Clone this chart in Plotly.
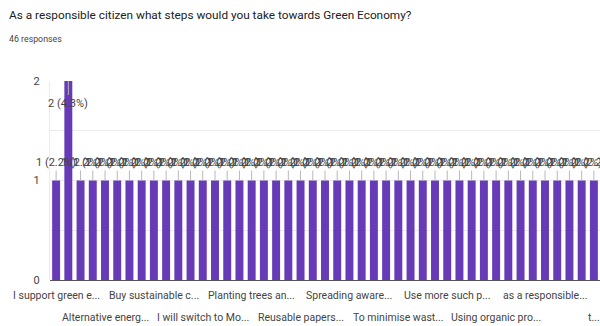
import plotly.graph_objects as go

title = "As a responsible citizen what steps would you take towards Green Economy?"
subtitle = "46 responses"

# 45 response categories (only every 4th label is readable in the reference)
shown_labels = {
    0: "I support green e...",
    4: "Alternative energ...",
    8: "Buy sustainable c...",
    12: "I will switch to Mo...",
    16: "Planting trees an...",
    20: "Reusable papers...",
    24: "Spreading aware...",
    28: "To minimise wast...",
    32: "Use more such p...",
    36: "Using organic pro...",
    40: "as a responsible...",
    44: "t...",
}
categories = [shown_labels.get(i, f"Response {i + 1}") for i in range(45)]
counts = [1, 2] + [1] * 43
percent_labels = ["2.2%", "4.3%"] + ["2.2%"] * 43

FONT = "Roboto, Arial, sans-serif"
BAR = "#673ab7"

fig = go.Figure()
fig.add_trace(go.Bar(x=categories, y=counts, marker=dict(color=BAR, line=dict(width=0)),
                     hoverinfo="skip"))

annotations = []
# value labels with stems
for c, v, p in zip(categories, counts, percent_labels):
    above = v < max(counts)
    annotations.append(dict(
        x=c, y=v, xref="x", yref="y", text=f"{v} ({p})",
        showarrow=True, arrowhead=0, arrowwidth=1, arrowcolor="#b8b8b8",
        ax=0, ay=-18 if above else 22,
        font=dict(family=FONT, size=11, color="#444444"),
    ))

# category labels in two staggered rows
for k, i in enumerate(sorted(shown_labels)):
    annotations.append(dict(
        x=categories[i], y=0, xref="x", yref="paper", yanchor="middle",
        yshift=-15 if k % 2 == 0 else -37, text=shown_labels[i], showarrow=False,
        font=dict(family=FONT, size=10.5, color="#444444"),
    ))

annotations.append(dict(x=0, y=1, xref="paper", yref="paper", xanchor="left", yanchor="top",
                        xshift=-50 + 7, yshift=81 - 6, text=title, showarrow=False,
                        font=dict(family=FONT, size=11.8, color="#202124")))
annotations.append(dict(x=0, y=1, xref="paper", yref="paper", xanchor="left", yanchor="top",
                        xshift=-50 + 7, yshift=81 - 32, text=subtitle, showarrow=False,
                        font=dict(family=FONT, size=8.8, color="#444444")))

fig.update_layout(
    width=600, height=326,
    margin=dict(l=50, r=0, t=81, b=46, autoexpand=False),
    paper_bgcolor="white", plot_bgcolor="white",
    bargap=0.35, showlegend=False,
    font=dict(family=FONT, size=11, color="#444444"),
    annotations=annotations,
    xaxis=dict(type="category", range=[-0.5, len(categories) - 0.5],
               showticklabels=False, showgrid=False, ticks="", showline=False, automargin=False),
    yaxis=dict(range=[0, 2], tickmode="array", tickvals=[0, 1, 2], ticktext=["0", "1", "2"],
               showgrid=True, gridcolor="#ececec", zeroline=True, zerolinecolor="#555555",
               zerolinewidth=1, showline=True, linecolor="#ececec", automargin=False,
               minor=dict(tickmode="array", tickvals=[0.5, 1.5], showgrid=True, gridcolor="#ececec"),
               ticks="", ticklabelstandoff=7,
               tickfont=dict(family=FONT, size=11, color="#444444")),
)

fig.write_html("out.html")
